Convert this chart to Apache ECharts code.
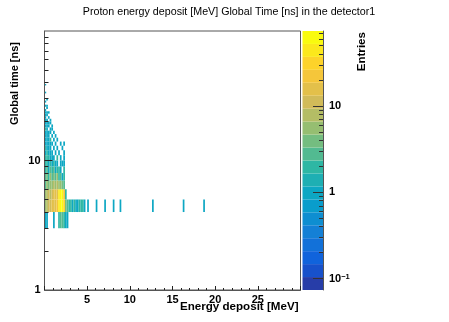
<!DOCTYPE html>
<html><head><meta charset="utf-8">
<script src="https://cdn.jsdelivr.net/npm/echarts@6/dist/echarts.min.js"></script>
<style>html,body{margin:0;padding:0;background:#fff}#c{width:449px;height:322px}</style>
</head><body><div id="c"></div>
<script>
// ---- text ----
const titleText = 'Proton energy deposit [MeV] Global Time [ns] in the detector1';
const xTitle = 'Energy deposit [MeV]';
const yTitle = 'Global time [ns]';
const zTitle = 'Entries';

// ---- axes ----
const xRange = [0, 30];
const xBinWidth = 0.2;          // MeV per bin
const yRange = [1, 100];
const zRange = [0.074, 74];
const xTickLabels = [5, 10, 15, 20, 25];
const yTickLabels = [1, 10];
const yMajorTicks = [10];
const yMinorTicks = [2, 3, 4, 5, 6, 7, 8, 9, 20, 30, 40, 50, 60, 70, 80, 90];
const zTickLabels = [0.1, 1, 10];
const zMajorTicks = [0.1, 1, 10];
const zMinorTicks = [0.2, 0.3, 0.4, 0.5, 0.6, 0.7, 0.8, 0.9, 2, 3, 4, 5, 6, 7, 8, 9, 20, 30, 40, 50, 60, 70];

// ---- data: time bins (1 ns wide, lower edge) and counts per energy bin starting at bin 0 ----
const timeBinLow = [3, 4, 5, 6, 7, 8, 9, 10, 11, 12, 13, 14, 15, 16, 17, 18, 19, 20, 21, 22, 23, 24, 25, 26, 28, 29, 33, 38];
const rowCounts = [
  [1, 1, 0, 0, 0, 1, 0, 0, 2, 3, 3, 2, 1, 1],
  [6, 9, 12, 10, 14, 16, 18, 22, 45, 74, 70, 35, 4, 3, 2, 2, 1, 2, 1, 1, 2, 2, 2, 1, 0, 1],
  [5, 8, 10, 8, 12, 14, 15, 18, 40, 65, 60, 25, 2],
  [3, 5, 4, 6, 5, 7, 6, 8, 6, 5, 4, 3],
  [3, 4, 2, 5, 3, 4, 3, 5, 2, 3, 1, 2],
  [2, 3, 1, 3, 2, 3, 1, 2, 2, 1, 0, 2],
  [2, 2, 1, 2, 1, 2, 1, 1, 0, 1, 1, 1],
  [2, 2, 2, 1, 1, 1, 0, 2, 0, 1, 0, 1],
  [1, 2, 1, 1, 1, 0, 1, 0, 1, 0, 0, 1],
  [2, 1, 1, 1, 0, 1, 0, 1, 0, 0, 1],
  [1, 1, 1, 1, 1, 0, 1, 0, 0, 1, 0, 1],
  [1, 1, 1, 2, 0, 1, 0, 1],
  [1, 1, 1, 0, 1, 0, 1],
  [1, 1, 1, 1, 0, 1],
  [2, 1, 0, 1, 1],
  [1, 1, 1, 0, 1],
  [1, 1, 1, 1],
  [1, 1, 0, 1],
  [1, 0, 1],
  [1, 1],
  [1, 1, 1],
  [1],
  [0, 1],
  [1, 1],
  [1],
  [0, 1],
  [1],
  [1]
];
// isolated entries far out along the 4-5 ns row
const tailTime = 4;
const tailBins = [30, 35, 40, 44, 63, 81, 93];
const tailCounts = [1, 1, 1, 1, 1, 1, 1];

// ---- ROOT kBird palette ----
const birdStops = [0, 0.125, 0.25, 0.375, 0.5, 0.625, 0.75, 0.875, 1];
const birdR = [0.2082, 0.0592, 0.0780, 0.0232, 0.1802, 0.5301, 0.8186, 0.9956, 0.9764];
const birdG = [0.1664, 0.3599, 0.5041, 0.6419, 0.7178, 0.7492, 0.7328, 0.7862, 0.9832];
const birdB = [0.5293, 0.8684, 0.8385, 0.7914, 0.6425, 0.4662, 0.3499, 0.1968, 0.0539];
const nContours = 20;
function bird(p) {
  let g = 1;
  while (g < birdStops.length - 1 && p > birdStops[g]) g++;
  const f = (p - birdStops[g - 1]) / (birdStops[g] - birdStops[g - 1]);
  const c = a => Math.round(255 * (a[g - 1] + f * (a[g] - a[g - 1])));
  return 'rgb(' + c(birdR) + ',' + c(birdG) + ',' + c(birdB) + ')';
}
function bandColor(k) {
  const idx = Math.floor((k + 0.99) * 255 / nContours);
  return bird(Math.min(1, idx / 254));
}
const lzMin = Math.log10(zRange[0]), lzMax = Math.log10(zRange[1]);
function countColor(c) {
  let k = Math.floor((Math.log10(c) - lzMin) / (lzMax - lzMin) * nContours);
  k = Math.max(0, Math.min(nContours - 1, k));
  return bandColor(k);
}

// ---- build cells ----
const cells = [];
timeBinLow.forEach((t, r) => {
  rowCounts[r].forEach((c, i) => {
    if (c > 0) cells.push([i * xBinWidth, (i + 1) * xBinWidth, t, t + 1, c]);
  });
});
tailBins.forEach((i, j) => {
  cells.push([i * xBinWidth, (i + 1) * xBinWidth, tailTime, tailTime + 1, tailCounts[j]]);
});
const bands = [];
for (let k = 0; k < nContours; k++) {
  const step = (lzMax - lzMin) / nContours;
  bands.push([0, 1, Math.pow(10, lzMin + k * step), Math.pow(10, lzMin + (k + 1) * step), k]);
}

function rectItem(fillFn) {
  return function (params, api) {
    const p0 = api.coord([api.value(0), api.value(3)]);
    const p1 = api.coord([api.value(1), api.value(2)]);
    return {
      type: 'rect',
      shape: { x: p0[0], y: p0[1], width: p1[0] - p0[0], height: p1[1] - p0[1] },
      style: { fill: fillFn(api.value(4)), stroke: null }
    };
  };
}

const FONT = '"Liberation Sans", Arial, Helvetica, sans-serif';
const labelStyle = { fontFamily: FONT, fontWeight: 'bold', fontSize: 11, color: '#000' };
const frameColor = '#555';
const mainRect = { left: 44.5, top: 31, width: 256, height: 259 };
const barRect = { left: 302.5, top: 31, width: 20.5, height: 259 };
const hiddenX = g => ({ gridIndex: g, type: 'value', min: 0, max: 1, show: false });
const noLabel = { show: false };

const chart = echarts.init(document.getElementById('c'), null, { renderer: 'canvas' });
chart.setOption({
  animation: false,
  backgroundColor: '#fff',
  grid: [
    Object.assign({ show: true, borderColor: frameColor, borderWidth: 1, backgroundColor: 'transparent', z: 10 }, mainRect),
    Object.assign({ show: false }, barRect),
    Object.assign({ show: false }, mainRect),
    Object.assign({ show: false }, barRect)
  ],
  xAxis: [
    {
      gridIndex: 0, type: 'value', min: xRange[0], max: xRange[1], interval: 5, z: 10,
      axisLine: { show: true, onZero: false, lineStyle: { color: frameColor } },
      axisTick: { show: true, inside: true, length: 4, lineStyle: { color: '#222' } },
      minorTick: { show: true, splitNumber: 5, length: 2, lineStyle: { color: '#222' } },
      axisLabel: Object.assign({ customValues: xTickLabels, margin: 4 }, labelStyle),
      splitLine: { show: false }
    },
    hiddenX(1), hiddenX(2), hiddenX(3)
  ],
  yAxis: [
    {
      gridIndex: 0, type: 'log', logBase: 10, min: yRange[0], max: yRange[1], position: 'left', z: 10,
      axisLine: { show: true, onZero: false, lineStyle: { color: frameColor } },
      axisTick: { show: true, inside: true, length: 4, customValues: yMinorTicks, lineStyle: { color: '#222' } },
      axisLabel: Object.assign({ customValues: yTickLabels, margin: 4 }, labelStyle),
      splitLine: { show: false }
    },
    {
      gridIndex: 1, type: 'log', logBase: 10, min: zRange[0], max: zRange[1], position: 'right', z: 10,
      axisLine: { show: true, onZero: false, lineStyle: { color: frameColor } },
      axisTick: { show: true, inside: true, length: 4, customValues: zMinorTicks, lineStyle: { color: '#333' } },
      axisLabel: Object.assign({
        customValues: zTickLabels, margin: 6,
        formatter: v => v < 0.5 ? '{b|10}{s|\u22121}' : '{b|' + Math.round(v) + '}',
        rich: {
          b: { fontFamily: FONT, fontWeight: 'bold', fontSize: 11, color: '#000' },
          s: { fontFamily: FONT, fontWeight: 'bold', fontSize: 7.5, color: '#000', verticalAlign: 'top' }
        }
      }, labelStyle),
      splitLine: { show: false }
    },
    {
      gridIndex: 2, type: 'log', logBase: 10, min: yRange[0], max: yRange[1], position: 'left', z: 10,
      axisLine: { show: false, onZero: false },
      axisTick: { show: true, inside: true, length: 8, customValues: yMajorTicks, lineStyle: { color: '#222' } },
      axisLabel: noLabel, splitLine: { show: false }
    },
    {
      gridIndex: 3, type: 'log', logBase: 10, min: zRange[0], max: zRange[1], position: 'right', z: 10,
      axisLine: { show: false, onZero: false },
      axisTick: { show: true, inside: true, length: 10, customValues: zMajorTicks, lineStyle: { color: '#333' } },
      axisLabel: noLabel, splitLine: { show: false }
    }
  ],
  series: [
    {
      type: 'custom', xAxisIndex: 0, yAxisIndex: 0, clip: true, z: 2,
      encode: { x: [0, 1], y: [2, 3] },
      renderItem: rectItem(countColor),
      data: cells, silent: true
    },
    {
      type: 'custom', xAxisIndex: 1, yAxisIndex: 1, clip: true, z: 2,
      encode: { x: [0, 1], y: [2, 3] },
      renderItem: rectItem(bandColor),
      data: bands, silent: true
    }
  ],
  graphic: [
    { type: 'text', x: 229, y: 12, style: { text: titleText, font: '10.7px ' + FONT, fill: '#000', align: 'center', verticalAlign: 'middle' } },
    { type: 'text', x: 298.5, y: 307, style: { text: xTitle, font: 'bold 11.6px ' + FONT, fill: '#000', align: 'right', verticalAlign: 'middle' } },
    { type: 'text', x: 15, y: 42, rotation: Math.PI / 2, style: { text: yTitle, font: 'bold 11px ' + FONT, fill: '#000', align: 'right', verticalAlign: 'middle' } },
    { type: 'text', x: 362, y: 32, rotation: Math.PI / 2, style: { text: zTitle, font: 'bold 11.6px ' + FONT, fill: '#000', align: 'right', verticalAlign: 'middle' } }
  ]
});
</script>
</body></html>
